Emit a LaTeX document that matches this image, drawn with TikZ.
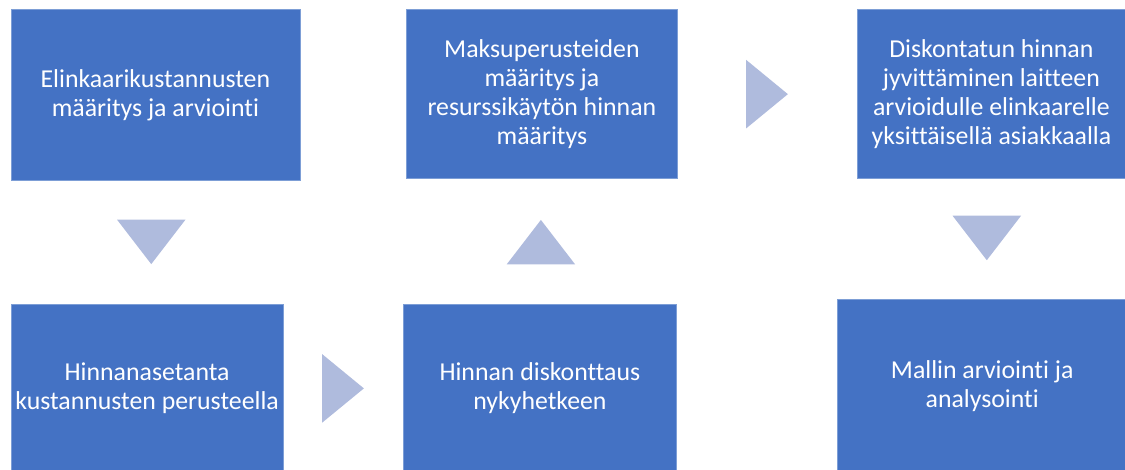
\documentclass[tikz,border=0pt]{standalone}
\usepackage{fontspec}
\setmainfont{Carlito}[Ligatures=NoCommon]
\usepackage{tikz}
\usetikzlibrary{calc,shapes.geometric}
\definecolor{boxblue}{RGB}{68,114,196}
\definecolor{boxedge}{RGB}{125,158,214}
\definecolor{triblue}{RGB}{175,187,221}
\tikzset{
  stepbox/.style={draw=boxedge, line width=0.8pt, fill=boxblue, text=white, align=center, inner sep=2pt, anchor=north west, font=\fontsize{25.8}{29}\selectfont},
  tri/.style={isosceles triangle, isosceles triangle stretches, fill=triblue, draw=none, inner sep=0pt, minimum width=68.5pt, anchor=apex},
  triright/.style={tri, minimum height=41.7pt},
  tridown/.style={tri, minimum height=44.5pt, rotate=-90},
  triup/.style={tri, minimum height=44.5pt, rotate=90},
}

\begin{document}
\begin{tikzpicture}[x=1pt, y=-1pt]
  \clip (0,0) rectangle (1125,470);

  % TOP ROW
  \node[stepbox, minimum width=289pt, minimum height=171pt] (cost) at (10.5,9.5) {Elinkaarikustannusten\\määritys ja arviointi};
  \node[stepbox, minimum width=271pt, minimum height=168.5pt] (fees) at (406,9.5) {Maksuperusteiden\\määritys ja\\resurssikäytön hinnan\\määritys};
  \node[stepbox, minimum width=268pt, minimum height=168.5pt] (alloc) at (857,9.5) {Diskontatun hinnan\\jyvittäminen laitteen\\arvioidulle elinkaarelle\\yksittäisellä asiakkaalla};

  % BOTTOM ROW
  \node[stepbox, minimum width=272pt, minimum height=168pt] (pricing) at (10.7,304) {Hinnanasetanta\\kustannusten perusteella};
  \node[stepbox, minimum width=272.4pt, minimum height=168pt] (discount) at (403.3,304) {Hinnan diskonttaus\\nykyhetkeen};
  \node[stepbox, minimum width=289pt, minimum height=174pt] (evaluate) at (837.3,298.7) {Mallin arviointi ja\\analysointi};

  % ARROWS
  \node[tridown] (cost2pricing) at ($(cost.south)!0.5!(pricing.north)+(0,22)$) {};
  \node[triright] (pricing2discount) at ($(pricing.east)!0.5!(discount.west)+(21,0)$) {};
  \node[triup] (discount2fees) at ($(discount.north)!0.5!(fees.south)+(0,-22)$) {};
  \node[triright] (fees2alloc) at ($(fees.east)!0.5!(alloc.west)+(21,0)$) {};
  \node[tridown] (alloc2evaluate) at ($(alloc.south)!0.5!(evaluate.north)+(0,22)$) {};
\end{tikzpicture}
\end{document}
